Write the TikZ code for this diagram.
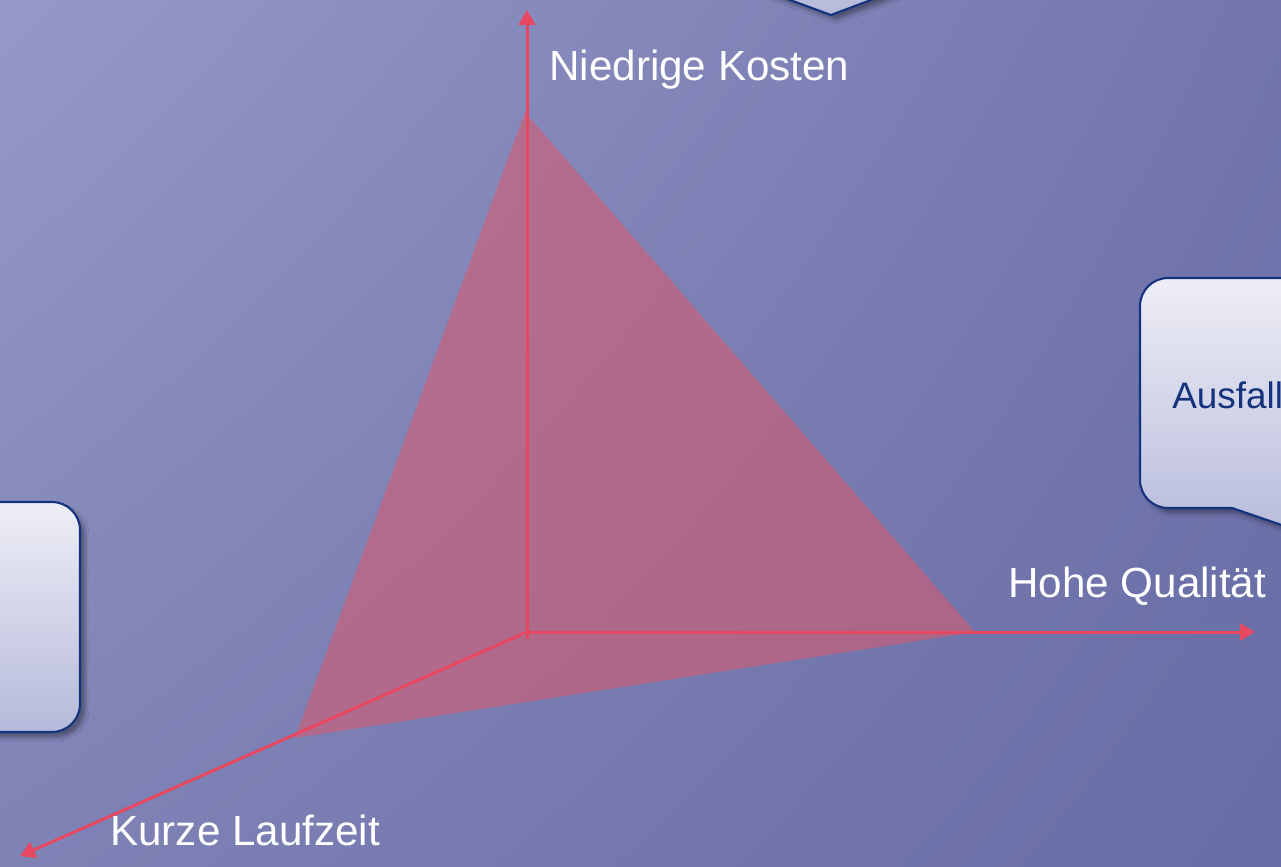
\documentclass[tikz,border=0pt]{standalone}
\usepackage{fontspec}
\setmainfont{Liberation Sans}
\usetikzlibrary{arrows.meta,shadows.blur,shadings}

\definecolor{bgTL}{RGB}{150,153,199}
\definecolor{bgTR}{RGB}{114,118,173}
\definecolor{bgBL}{RGB}{126,130,181}
\definecolor{bgBR}{RGB}{104,108,165}
\definecolor{axisred}{RGB}{232,72,95}
\definecolor{planered}{RGB}{213,92,113}
\definecolor{boxtop}{RGB}{238,238,246}
\definecolor{boxbot}{RGB}{182,186,218}
\definecolor{boxline}{RGB}{20,50,125}

\tikzset{
  axis/.style={draw=axisred, line width=1.7pt, -{Triangle[length=8.5pt,width=9.5pt]}},
  axislabel/.style={anchor=base west, inner sep=0pt, text=white, font=\fontsize{24}{28}\selectfont},
  callout/.style={draw=boxline, line width=1.2pt, top color=boxtop, bottom color=boxbot,
    blur shadow={shadow xshift=3pt, shadow yshift=-3pt, shadow opacity=35}},
  callouttext/.style={anchor=base west, inner sep=0pt, text=boxline, font=\fontsize{21}{25}\selectfont}
}

\begin{document}
\begin{tikzpicture}[x=0.02cm, y=-0.02cm]

  % -- Frame and background --
  \useasboundingbox (0,0) rectangle (1281,866);
  \clip (0,0) rectangle (1281,866);
  \shade[upper left=bgTL, upper right=bgTR, lower left=bgBL, lower right=bgBR]
    (0,0) rectangle (1281,866);

  % -- Callouts (cut by the frame) --
  \path[callout] (760,-11) -- (831,15) -- (900,-11) -- (1000,-11) -- (1000,-200)
    -- (600,-200) -- (600,-11) -- cycle;
  \path[callout] (1232,508) -- (1340,545) -- (1310,508) [rounded corners=0.56cm]
    -- (1460,508) -- (1460,278) -- (1140,278) -- (1140,508) [sharp corners] -- cycle;
  \path[callout, rounded corners=0.56cm] (-200,502) rectangle (80,732);
  \node[callouttext] (ausfall) at (1172,408) {Ausfall};

  % -- Corner points --
  \coordinate (O) at (527,632);
  \coordinate (Ostub) at (527,639);
  \coordinate (ktop) at (525,112);
  \coordinate (qright) at (975,632);
  \coordinate (lleft) at (295,738);

  % -- Trade-off plane --
  \fill[planered, opacity=0.6] (ktop) -- (qright) -- (lleft) -- cycle;

  % -- Axes --
  \coordinate (kend) at (527,10);
  \coordinate (qend) at (1255,632);
  \coordinate (lend) at (20,856);
  \draw[axis] (Ostub) -- (kend);
  \draw[axis] (O) -- (qend);
  \draw[axis] (O) -- (lend);

  % -- Axis labels --
  \node[axislabel] (kosten) at (549,80) {Niedrige Kosten};
  \node[axislabel] (qualitaet) at (1008,597) {Hohe Qualität};
  \node[axislabel] (laufzeit) at (110,845) {Kurze Laufzeit};

\end{tikzpicture}
\end{document}
